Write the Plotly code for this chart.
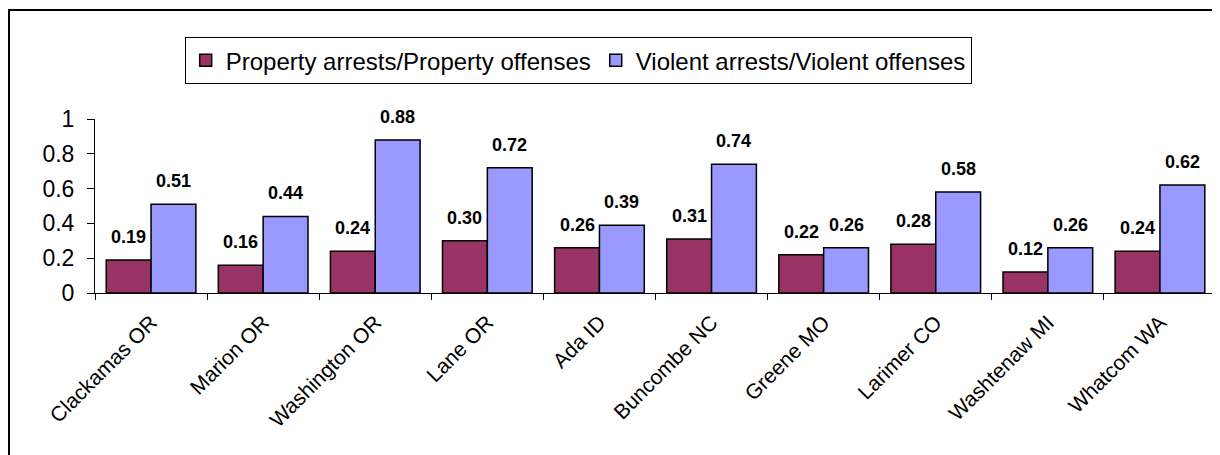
import plotly.graph_objects as go

counties = ["Clackamas OR", "Marion OR", "Washington OR", "Lane OR", "Ada ID",
            "Buncombe NC", "Greene MO", "Larimer CO", "Washtenaw MI", "Whatcom WA"]
property_ratio = [0.19, 0.16, 0.24, 0.30, 0.26, 0.31, 0.22, 0.28, 0.12, 0.24]
violent_ratio = [0.51, 0.44, 0.88, 0.72, 0.39, 0.74, 0.26, 0.58, 0.26, 0.62]
y_ticks = [0, 0.2, 0.4, 0.6, 0.8, 1]

fig = go.Figure()
fig.add_trace(go.Bar(x=counties, y=property_ratio, name="Property arrests/Property offenses",
                     marker=dict(color="#993366", line=dict(color="black", width=1.5))))
fig.add_trace(go.Bar(x=counties, y=violent_ratio, name="Violent arrests/Violent offenses",
                     marker=dict(color="#9999FF", line=dict(color="black", width=1.5))))

# value labels above bars
annots = []
for i, (p, v) in enumerate(zip(property_ratio, violent_ratio)):
    for off, val in ((-0.2, p), (0.2, v)):
        annots.append(dict(x=i + off, y=val, xref="x", yref="y", text=f"<b>{val:.2f}</b>",
                           showarrow=False, yshift=23, font=dict(size=18, color="black")))

# page body has an 8px margin, so the figure is a bit smaller than the window
fig.update_layout(
    width=1212, height=447,
    margin=dict(l=87, r=4, t=111, b=162),
    paper_bgcolor="white", plot_bgcolor="white",
    font=dict(family="Arial, Liberation Sans", color="black"),
    barmode="group", bargap=0.2, bargroupgap=0,
    annotations=annots,
    legend=dict(orientation="h", x=0.08, y=1.471, xanchor="left", yanchor="top",
                bordercolor="black", borderwidth=1, font=dict(size=24),
                traceorder="normal", itemwidth=30, tracegroupgap=0),
    shapes=[dict(type="rect", xref="paper", yref="paper", x0=-0.0767, x1=1.06,
                 y0=-1.2, y1=1.626, line=dict(color="black", width=2))],
)
fig.update_xaxes(showline=True, linecolor="black", linewidth=1, ticks="outside",
                 tickson="boundaries", ticklen=6, tickcolor="black", tickangle=-45,
                 tickfont=dict(size=21), showgrid=False, automargin=False,
                 ticklabelstandoff=8)
fig.update_yaxes(range=[0, 1], tickvals=y_ticks, ticktext=["0", "0.2", "0.4", "0.6", "0.8", "1"],
                 showline=True, linecolor="black", linewidth=1, ticks="outside",
                 ticklen=7, tickcolor="black", tickfont=dict(size=23), showgrid=False,
                 zeroline=False, automargin=False, ticklabelstandoff=8)

fig.write_html("out.html")
